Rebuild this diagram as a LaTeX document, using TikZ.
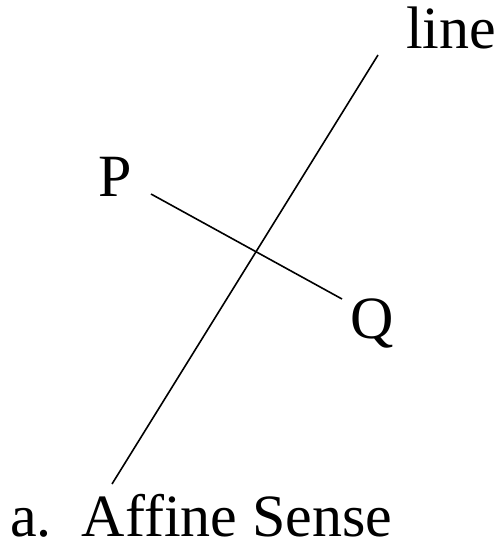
\documentclass[tikz,border=0pt]{standalone}
\usepackage{fontspec}
\setmainfont{Liberation Serif}
\begin{document}
\begin{tikzpicture}[x=1pt,y=-1pt,
  lbl/.style={inner sep=0pt,anchor=base west,font=\fontsize{60}{60}\selectfont},
  ln/.style={line width=1.6pt}]
\useasboundingbox (0,0) rectangle (502,546);
\coordinate (l1) at (378,55);
\coordinate (l2) at (112,484);
\coordinate (p) at (151,194);
\coordinate (q) at (342,299);
\draw[ln] (l1) -- (l2);
\draw[ln] (p) -- (q);
\node[lbl] (tline) at (406,48) {line};
\node[lbl] (tp) at (98,196) {P};
\node[lbl] (tq) at (350,338) {Q};
\node[lbl] (cap) at (10,536) {a.\ \ Affine Sense};
\end{tikzpicture}
\end{document}
